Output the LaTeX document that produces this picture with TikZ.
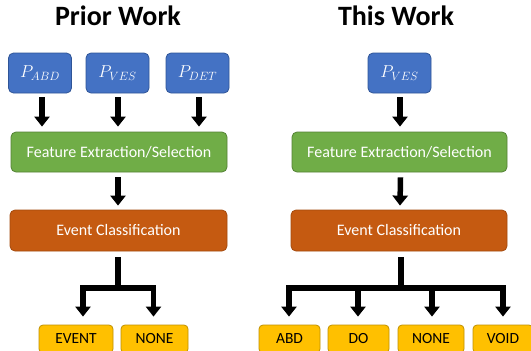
\documentclass[tikz,border=0pt]{standalone}
\usepackage{fontspec}
\setmainfont{Carlito}
\usetikzlibrary{arrows.meta,calc}
\definecolor{cblue}{HTML}{4472C4}
\definecolor{cblueD}{HTML}{2F5597}
\definecolor{cgreen}{HTML}{70AD47}
\definecolor{cgreenD}{HTML}{548235}
\definecolor{corange}{HTML}{C55A11}
\definecolor{corangeD}{HTML}{A34A0E}
\definecolor{cyellow}{HTML}{FFC000}
\definecolor{cyellowD}{HTML}{BF9000}
\tikzset{
  box/.style={rectangle, rounded corners=5pt, inner sep=0pt, line width=0.8pt},
  inbox/.style={box, fill=cblue, draw=cblueD, minimum width=63pt, minimum height=40pt, text=white, font=\fontsize{18}{20}\selectfont},
  featbox/.style={box, fill=cgreen, draw=cgreenD, minimum height=40pt, text=white, font=\fontsize{16}{19}\selectfont},
  classbox/.style={box, fill=corange, draw=corangeD, minimum height=41pt, text=white, font=\fontsize{16}{19}\selectfont},
  outbox/.style={box, rounded corners=4pt, fill=cyellow, draw=cyellowD, minimum height=28pt, text=black, font=\fontsize{15.5}{18}\selectfont},
  titletext/.style={font=\fontsize{28}{32}\selectfont\bfseries, anchor=base, inner sep=0pt},
  arr/.style={line width=5.5pt, -{Triangle[width=15pt,length=10pt]}},
  bar/.style={line width=5.5pt},
}
\begin{document}
\begin{tikzpicture}[x=1pt,y=-1pt]
\useasboundingbox (0,0) rectangle (531,351);
\fill[white] (0,0) rectangle (531,351);
% titles
\node[titletext] (t1) at (118,25) {Prior Work};
\node[titletext] (t2) at (396,25) {This Work};
% left column
\node[inbox] (pa) at (40,73) {$P_{ABD}$};
\node[inbox] (pv) at (117.5,73) {$P_{VES}$};
\node[inbox] (pd) at (197.5,73) {$P_{DET}$};
\node[featbox, minimum width=216pt] (f1) at (119,152) {Feature Extraction/Selection};
\node[classbox, minimum width=217pt] (c1) at (118.5,230.5) {Event Classification};
\node[outbox, minimum width=74pt] (ev) at (76,339) {EVENT};
\node[outbox, minimum width=67pt] (n1) at (154.5,339) {NONE};
% left arrows
\draw[arr] ($(pa.south)+(2,4)$) -- ($(pa.south |- f1.north)+(2,-5)$);
\draw[arr] ($(pv.south)+(0.5,4)$) -- ($(pv.south |- f1.north)+(0.5,-5)$);
\draw[arr] ($(pd.south)+(1.5,4)$) -- ($(pd.south |- f1.north)+(1.5,-5)$);
\draw[arr] ($(f1.south)+(-1,5)$) -- ($(c1.north)+(-0.5,-4)$);
\coordinate (j1) at (118,288);
\draw[bar] ($(c1.south)+(-0.5,6)$) -- (j1);
\draw[arr] (j1) -| ($(ev.north)+(7,-8)$);
\draw[arr] (j1) -| ($(n1.north)+(-1,-8)$);
% right column
\node[inbox] (pv2) at (399.5,73) {$P_{VES}$};
\node[featbox, minimum width=215pt] (f2) at (399.5,152) {Feature Extraction/Selection};
\node[classbox, minimum width=216pt] (c2) at (399,230.5) {Event Classification};
\node[outbox, minimum width=61pt] (o1) at (289.5,339) {ABD};
\node[outbox, minimum width=61pt] (o2) at (358.5,339) {DO};
\node[outbox, minimum width=66pt] (o3) at (431,339) {NONE};
\node[outbox, minimum width=60pt] (o4) at (503,339) {VOID};
\draw[arr] ($(pv2.south)+(0.5,4)$) -- ($(pv2.south |- f2.north)+(0.5,-5)$);
\draw[arr] ($(f2.south)+(1,5)$) -- ($(c2.north)+(1,-4)$);
\coordinate (j2) at (401,288);
\draw[bar] ($(c2.south)+(2,6)$) -- (j2);
\draw[arr] (j2) -| ($(o1.north)+(-0.5,-8)$);
\draw[arr] (j2) -| ($(o2.north)+(-0.5,-8)$);
\draw[arr] (j2) -| ($(o3.north)+(1,-8)$);
\draw[arr] (j2) -| ($(o4.north)+(0,-8)$);
\end{tikzpicture}
\end{document}
